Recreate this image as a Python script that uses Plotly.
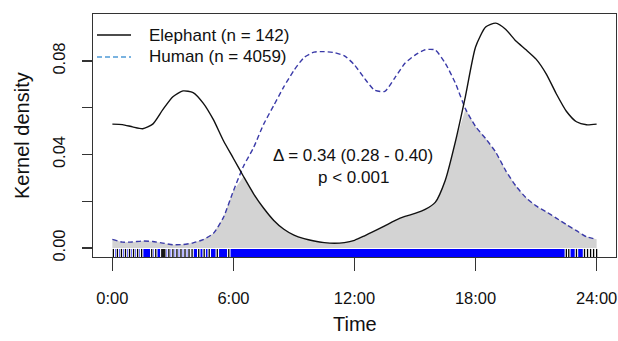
import plotly.graph_objects as go

# ---------------- data ----------------
hours = [0, 0.5, 1, 1.5, 2, 2.5, 3, 3.5, 4, 4.5, 5, 5.5, 6, 6.5, 7, 7.5, 8, 8.5,
         9, 9.5, 10, 10.5, 11, 11.5, 12, 12.5, 13, 13.5, 14, 14.5, 15, 15.5, 16,
         16.5, 17, 17.5, 18, 18.5, 19, 19.5, 20, 20.5, 21, 21.5, 22, 22.5, 23,
         23.5, 24]

elephant_density = [0.0530, 0.0528, 0.0518, 0.0510, 0.0530, 0.0592, 0.0647, 0.0672,
                    0.0665, 0.0620, 0.0550, 0.0460, 0.0383, 0.0306, 0.0232, 0.0170,
                    0.0118, 0.0080, 0.0055, 0.0040, 0.0030, 0.0023, 0.0020, 0.0023,
                    0.0033, 0.0052, 0.0073, 0.0095, 0.0117, 0.0135, 0.0148, 0.0165,
                    0.0195, 0.0290, 0.0455, 0.0650, 0.0860, 0.0945, 0.0962, 0.0935,
                    0.0885, 0.0848, 0.0808, 0.0745, 0.0660, 0.0585, 0.0540, 0.0527,
                    0.0530]

human_density = [0.0037, 0.0025, 0.0026, 0.0030, 0.0028, 0.0021, 0.0014, 0.0015,
                 0.0022, 0.0036, 0.0062, 0.0130, 0.0245, 0.0350, 0.0430, 0.0530,
                 0.0610, 0.0690, 0.0760, 0.0815, 0.0838, 0.0840, 0.0836, 0.0822,
                 0.0783, 0.0725, 0.0675, 0.0670, 0.0728, 0.0790, 0.0825, 0.0848,
                 0.0847, 0.0790, 0.0705, 0.0595, 0.0520, 0.0468, 0.0410, 0.0330,
                 0.0265, 0.0215, 0.0180, 0.0155, 0.0128, 0.0100, 0.0074, 0.0048,
                 0.0037]

elephant_rug_hours = [0.05, 0.25, 0.45, 0.65, 0.85, 1.05, 1.25, 1.45, 1.95, 2.15,
                      2.45, 2.5, 2.55, 2.6, 2.8, 3.0, 3.2, 3.4, 3.6, 3.8, 3.95,
                      4.28, 4.55, 4.8, 5.2, 5.77, 22.5, 22.62, 23.0, 23.4, 23.55,
                      23.7, 23.85, 24.0]

x_tick_vals = [0, 6, 12, 18, 24]
x_tick_text = ["0:00", "6:00", "12:00", "18:00", "24:00"]
y_tick_vals = [0.00, 0.02, 0.04, 0.06, 0.08]
y_tick_text = ["0.00", "", "0.04", "", "0.08"]

legend_labels = ["Elephant (n = 142)", "Human (n = 4059)"]
stat_lines = ["\u0394 = 0.34 (0.28 - 0.40)", "p < 0.001"]
x_title = "Time"
y_title = "Kernel density"

# ---------------- layout geometry ----------------
W, H = 618, 341
L, R, T, B = 93, 2, 14, 84
PW, PH = W - L - R, H - T - B
X_RANGE = [-0.96, 24.96]
Y_RANGE = [-0.00385, 0.1001]
RUG_TOP = -0.0004
FONT = "Liberation Sans, Arial, sans-serif"


def px(xp):
    return (xp - L) / PW


def py(yp):
    return (H - B - yp) / PH


overlap = [min(a, b) for a, b in zip(elephant_density, human_density)]

fig = go.Figure()

# overlap shading
fig.add_trace(go.Scatter(x=hours, y=overlap, mode="lines", line=dict(width=0, color="#d3d3d3"),
                         fill="tozeroy", fillcolor="#d3d3d3", hoverinfo="skip", showlegend=False))

# rug: human band (dense) and elephant ticks
band_x = [hours[0], hours[-1], hours[-1], hours[0], hours[0]]
band_y = [Y_RANGE[0], Y_RANGE[0], RUG_TOP, RUG_TOP, Y_RANGE[0]]
fig.add_trace(go.Scatter(x=band_x, y=band_y, mode="lines", line=dict(width=0, color="#0000ff"),
                         fill="toself", fillcolor="#0000ff", hoverinfo="skip", showlegend=False))

gx, gy = [], []
for t in elephant_rug_hours:
    gx += [t, t, None]
    gy += [Y_RANGE[0], RUG_TOP, None]
fig.add_trace(go.Scatter(x=gx, y=gy, mode="lines", line=dict(width=3.5, color="white"),
                         hoverinfo="skip", showlegend=False))
fig.add_trace(go.Scatter(x=gx, y=gy, mode="lines", line=dict(width=1.3, color="black"),
                         hoverinfo="skip", showlegend=False))

# density curves
fig.add_trace(go.Scatter(x=hours, y=human_density, mode="lines",
                         line=dict(color="#3a3aa8", width=1.4, dash="5px,3px", shape="spline", smoothing=0.6),
                         showlegend=False))
fig.add_trace(go.Scatter(x=hours, y=elephant_density, mode="lines",
                         line=dict(color="#111111", width=1.4, shape="spline", smoothing=0.6),
                         showlegend=False))

shapes = [
    dict(type="line", xref="paper", yref="paper", x0=px(97), x1=px(131), y0=py(35), y1=py(35),
         line=dict(color="#111111", width=1.4)),
    dict(type="line", xref="paper", yref="paper", x0=px(97), x1=px(131), y0=py(57), y1=py(57),
         line=dict(color="#4f9bd6", width=1.4, dash="5px,3px")),
]

annotations = [
    dict(text=legend_labels[0], x=px(147), y=py(35), xref="paper", yref="paper",
         xanchor="left", yanchor="middle", showarrow=False, font=dict(size=17, color="#111")),
    dict(text=legend_labels[1], x=px(147), y=py(57), xref="paper", yref="paper",
         xanchor="left", yanchor="middle", showarrow=False, font=dict(size=17, color="#111")),
    dict(text=stat_lines[0], x=px(353), y=py(155), xref="paper", yref="paper",
         xanchor="center", yanchor="middle", showarrow=False, font=dict(size=17, color="#111")),
    dict(text=stat_lines[1], x=px(353), y=py(177), xref="paper", yref="paper",
         xanchor="center", yanchor="middle", showarrow=False, font=dict(size=17, color="#111")),
    dict(text=y_title, x=px(22), y=py(136), xref="paper", yref="paper", textangle=-90,
         xanchor="center", yanchor="middle", showarrow=False, font=dict(size=20, color="#111")),
    dict(text=x_title, x=px(355), y=py(324), xref="paper", yref="paper",
         xanchor="center", yanchor="middle", showarrow=False, font=dict(size=20, color="#111")),
]

fig.update_layout(
    width=W, height=H,
    margin=dict(l=L, r=R, t=T, b=B, pad=0, autoexpand=False),
    paper_bgcolor="white", plot_bgcolor="white",
    font=dict(family=FONT, color="#111"),
    shapes=shapes, annotations=annotations,
    showlegend=False,
)
fig.update_xaxes(range=X_RANGE, tickvals=x_tick_vals, ticktext=x_tick_text,
                 showgrid=False, zeroline=False, showline=True, mirror=True, automargin=False,
                 linecolor="#333", linewidth=1.3, ticks="outside", ticklen=13,
                 tickcolor="#333", tickwidth=1.2, tickfont=dict(size=16.5, color="#111"),
                 ticklabelstandoff=13)
fig.update_yaxes(range=Y_RANGE, tickvals=y_tick_vals, ticktext=y_tick_text,
                 showgrid=False, zeroline=False, showline=True, mirror=True, automargin=False,
                 linecolor="#333", linewidth=1.3, ticks="outside", ticklen=10,
                 tickcolor="#333", tickwidth=1.2, tickfont=dict(size=16.5, color="#111"),
                 tickangle=-90, ticklabelstandoff=10)

fig.write_html("out.html", config={"displayModeBar": False, "staticPlot": True},
               post_script="document.body.style.margin='0';")
